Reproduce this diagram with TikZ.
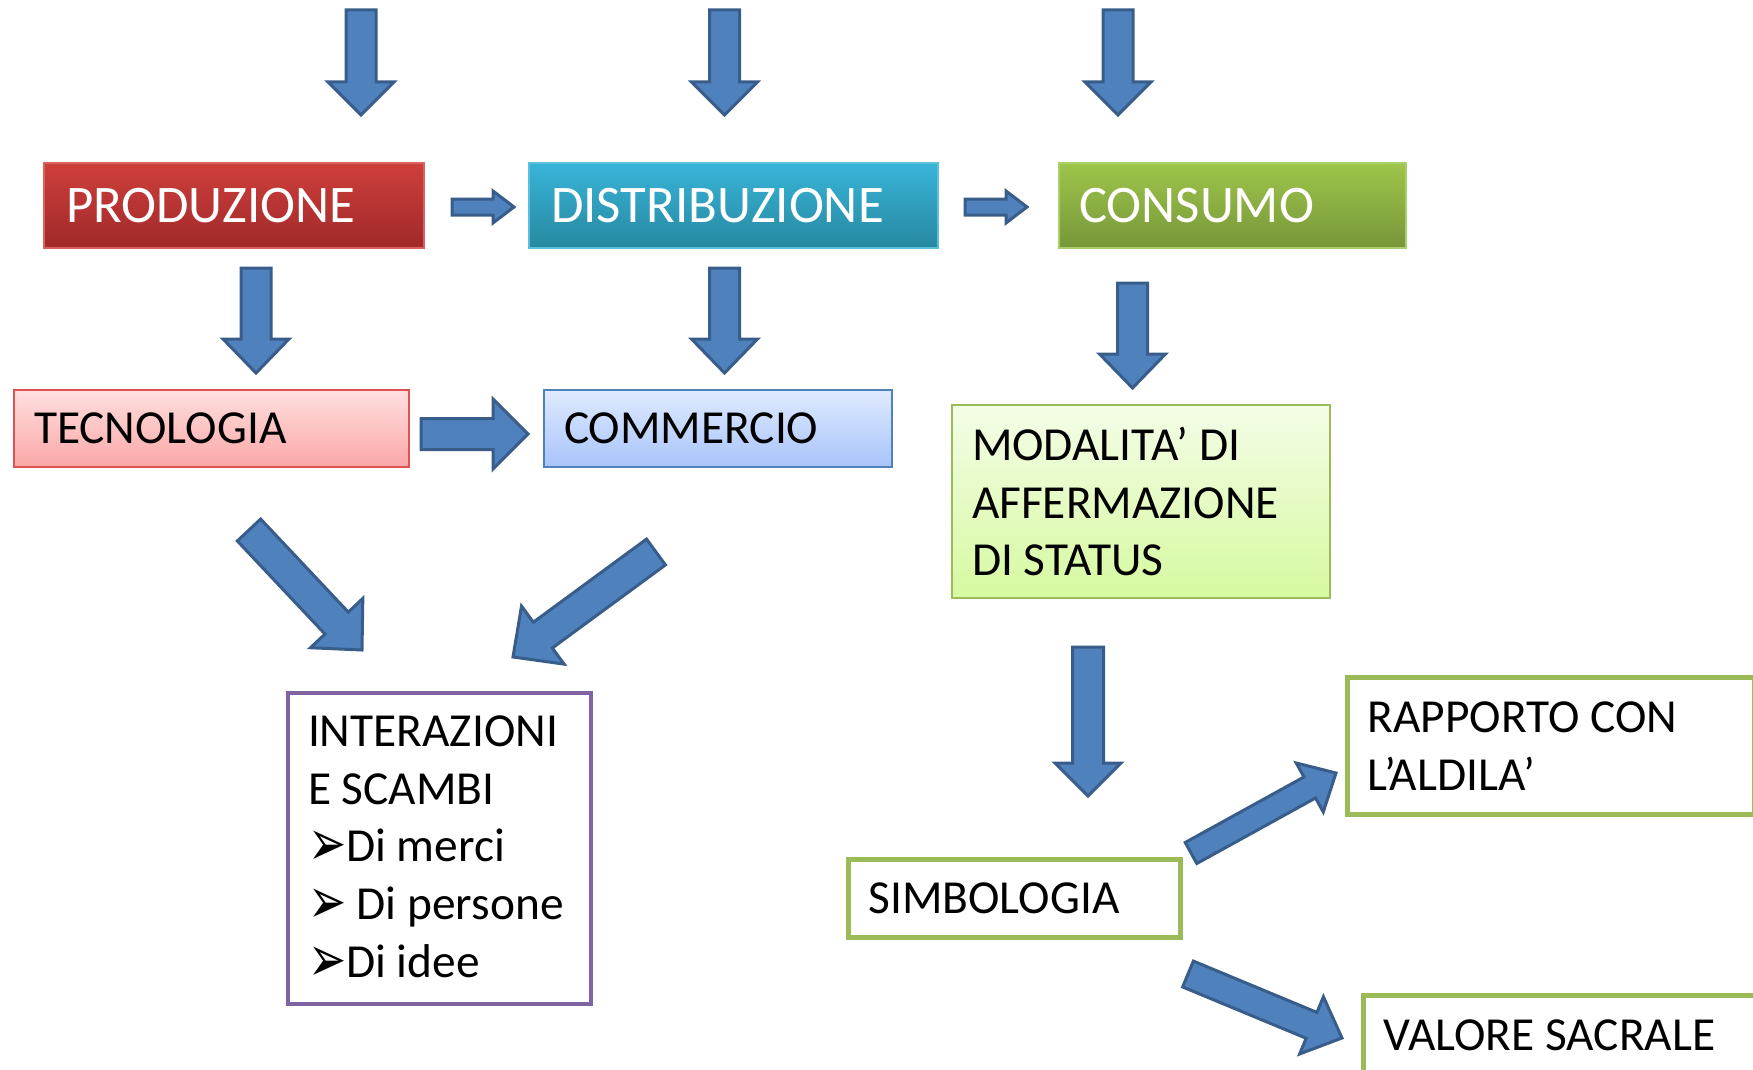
\documentclass[tikz,border=0pt]{standalone}
\usepackage{fontspec}
\usepackage{graphicx}
\setmainfont{Carlito}
\newfontfamily\dejavu{DejaVu Sans}
\usetikzlibrary{calc}

\definecolor{arrfill}{HTML}{4F81BD}
\definecolor{arrline}{HTML}{385D8A}
\definecolor{prodtop}{HTML}{CE3F3B}
\definecolor{prodbot}{HTML}{A0292A}
\definecolor{prodline}{HTML}{D9625E}
\definecolor{disttop}{HTML}{38B4D8}
\definecolor{distbot}{HTML}{2788A0}
\definecolor{distline}{HTML}{5BC0DE}
\definecolor{constop}{HTML}{9EC54A}
\definecolor{consbot}{HTML}{77963A}
\definecolor{consline}{HTML}{A9CF6A}
\definecolor{tecntop}{HTML}{FFDFDF}
\definecolor{tecnbot}{HTML}{FBA7A7}
\definecolor{tecnline}{HTML}{E05252}
\definecolor{commtop}{HTML}{DFEAFF}
\definecolor{commbot}{HTML}{A8C4FA}
\definecolor{commline}{HTML}{4F81BD}
\definecolor{modatop}{HTML}{F4FDE7}
\definecolor{modabot}{HTML}{D6F9A0}
\definecolor{grline}{HTML}{9BBB59}
\definecolor{purline}{HTML}{8064A2}

% block arrow: tail, tip, half shaft, half head, head length
\newcommand{\blkarrow}[5]{%
  \path ($(#2)!#5!(#1)$) coordinate (hb);
  \draw[blk] ($(#1)!#3!90:(#2)$) -- ($(hb)!#3!90:(#2)$) -- ($(hb)!#4!90:(#2)$) -- (#2)
    -- ($(hb)!#4!-90:(#2)$) -- ($(hb)!#3!-90:(#2)$) -- ($(#1)!#3!-90:(#2)$) -- cycle;
}
\newcommand{\bul}{\makebox[38pt][l]{\raisebox{-4pt}{\scalebox{0.95}[1.35]{\dejavu\fontsize{48}{48}\selectfont ➢}}}}

\begin{document}
\begin{tikzpicture}[x=1pt,y=-1pt,
  blk/.style={fill=arrfill,draw=arrline,line width=3pt,line join=miter},
  box/.style={anchor=north west,inner xsep=20pt,inner ysep=0pt,align=flush left},
  big/.style={font=\fontsize{52.8}{60}\selectfont,text=white,line width=2pt},
  txt/.style={font=\fontsize{47.4}{57.6}\selectfont}]
\useasboundingbox (0,0) rectangle (1753,1070);
\clip (0,0) rectangle (1753,1070);

% first row
\node[box,big,inner xsep=22pt,top color=prodtop,bottom color=prodbot,draw=prodline,
  minimum width=380pt,minimum height=85pt,text width=336pt] (prod) at (43,162) {PRODUZIONE};
\node[box,big,inner xsep=22pt,top color=disttop,bottom color=distbot,draw=distline,
  minimum width=409pt,minimum height=85pt,text width=365pt] (dist) at (528,162) {DISTRIBUZIONE};
\node[box,big,top color=constop,bottom color=consbot,draw=consline,
  minimum width=347pt,minimum height=85pt,text width=307pt] (cons) at (1058,162) {CONSUMO};

% second row
\node[box,txt,top color=tecntop,bottom color=tecnbot,draw=tecnline,line width=2pt,
  minimum width=395pt,minimum height=77pt,text width=355pt] (tecn) at (13,389) {TECNOLOGIA};
\node[box,txt,top color=commtop,bottom color=commbot,draw=commline,line width=2pt,
  minimum width=348pt,minimum height=77pt,text width=308pt] (comm) at (543,389) {COMMERCIO};
\node[box,txt,top color=modatop,bottom color=modabot,draw=grline,line width=2pt,
  minimum width=378pt,minimum height=193pt,text width=338pt] (moda) at (951,404)
  {MODALITA’ DI\\AFFERMAZIONE\\DI STATUS};

% lower boxes
\node[box,txt,fill=white,draw=purline,line width=4pt,
  minimum width=303pt,minimum height=311pt,text width=263pt] (inter) at (286,691)
  {INTERAZIONI\\E SCAMBI\\\bul Di merci\\\mbox{\bul{} Di persone}\\\bul Di idee};
\node[box,txt,fill=white,draw=grline,line width=5pt,
  minimum width=332pt,minimum height=78pt,text width=292pt] (simb) at (846,857) {SIMBOLOGIA};
\node[box,txt,fill=white,draw=grline,line width=5pt,
  minimum width=407pt,minimum height=137pt,text width=367pt] (rapp) at (1345,675)
  {RAPPORTO CON\\L’ALDILA’};
\node[box,txt,fill=white,draw=grline,line width=5pt,
  minimum width=392pt,minimum height=79pt,text width=352pt] (valo) at (1361,993) {VALORE SACRALE};

% arrows
\coordinate (t1a) at (361,10);   \coordinate (t1b) at (361,115);
\coordinate (t2a) at (724.5,10); \coordinate (t2b) at (724.5,115);
\coordinate (t3a) at (1118,10);  \coordinate (t3b) at (1118,115);
\blkarrow{t1a}{t1b}{15pt}{33pt}{33pt}
\blkarrow{t2a}{t2b}{15pt}{33pt}{33pt}
\blkarrow{t3a}{t3b}{15pt}{33pt}{33pt}

\coordinate (h1a) at (452,207);  \coordinate (h1b) at (514,207);
\coordinate (h2a) at (965,207);  \coordinate (h2b) at (1027,207);
\blkarrow{h1a}{h1b}{8pt}{16pt}{21pt}
\blkarrow{h2a}{h2b}{8pt}{16pt}{21pt}

\coordinate (d1a) at (256,268);    \coordinate (d1b) at (256,373);
\coordinate (d2a) at (724.5,268);  \coordinate (d2b) at (724.5,373);
\coordinate (d3a) at (1132.5,283); \coordinate (d3b) at (1132.5,388);
\blkarrow{d1a}{d1b}{15pt}{33pt}{34pt}
\blkarrow{d2a}{d2b}{15pt}{33pt}{34pt}
\blkarrow{d3a}{d3b}{15pt}{33pt}{34pt}

\coordinate (h3a) at (421,434);  \coordinate (h3b) at (528,434);
\blkarrow{h3a}{h3b}{15.5pt}{35pt}{35pt}

\coordinate (d4a) at (1088,647); \coordinate (d4b) at (1088,796);
\blkarrow{d4a}{d4b}{15.5pt}{33pt}{33pt}

\coordinate (g1a) at (249,530);  \coordinate (g1b) at (362,650);
\coordinate (g2a) at (656,552);  \coordinate (g2b) at (513,657);
\blkarrow{g1a}{g1b}{16pt}{36pt}{37pt}
\blkarrow{g2a}{g2b}{16pt}{36pt}{37pt}

\coordinate (g3a) at (1191,853); \coordinate (g3b) at (1336,773);
\coordinate (g4a) at (1188,974); \coordinate (g4b) at (1342,1038);
\blkarrow{g3a}{g3b}{12pt}{28pt}{30pt}
\blkarrow{g4a}{g4b}{14pt}{31pt}{33pt}
\end{tikzpicture}
\end{document}
